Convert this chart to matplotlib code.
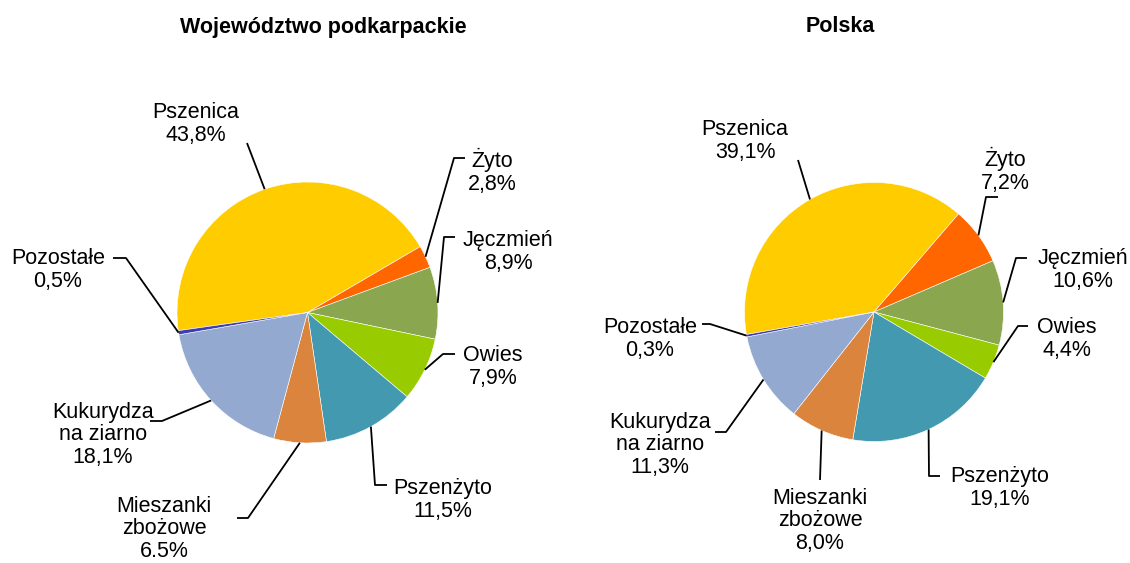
import numpy as np
import matplotlib
matplotlib.use("Agg")
import matplotlib.pyplot as plt

plt.rcParams['font.family'] = ['Liberation Sans', 'DejaVu Sans']

# ---- data ----
categories = ["Pszenica", "Żyto", "Jęczmień", "Owies", "Pszenżyto",
              "Mieszanki\nzbożowe", "Kukurydza\nna ziarno", "Pozostałe"]
podkarpackie = [43.8, 2.8, 8.9, 7.9, 11.5, 6.5, 18.1, 0.5]
polska = [39.1, 7.2, 10.6, 4.4, 19.1, 8.0, 11.3, 0.3]
labels_podk = ["43,8%", "2,8%", "8,9%", "7,9%", "11,5%", "6.5%", "18,1%", "0,5%"]
labels_pl = ["39,1%", "7,2%", "10,6%", "4,4%", "19,1%", "8,0%", "11,3%", "0,3%"]
titles = ["Województwo podkarpackie", "Polska"]

colors = ["#FFCC00", "#FF6600", "#8AA64E", "#99CC00", "#4299B0",
          "#DB843D", "#93A9CF", "#3C3CB4"]

W, H = 1130, 563
fig = plt.figure(figsize=(W / 100, H / 100), dpi=100)
ax = fig.add_axes([0, 0, 1, 1])


def Y(y):
    return H - y


# layout (image pixel coordinates)
pies = [
    dict(values=podkarpackie, labels=labels_podk, center=(307.5, 312.5), r=130.5,
         start=188, title_xy=(323.5, 27),
         text=[(196, 124), (492, 171), (508, 252), (493, 367), (443, 500),
               (164, 529), (103, 435), (58, 270)],
         path=[[(247, 143)], [(454, 158), (465, 158)], [(444, 237), (455, 237)],
               [(443, 354), (455, 354)], [(375, 485), (387, 485)],
               [(248, 518), (237, 518)], [(162, 421), (150, 421)],
               [(126, 258), (113, 258)]]),
    dict(values=polska, labels=labels_pl, center=(874, 312), r=129.5,
         start=190, title_xy=(840, 27),
         text=[(745, 141), (1005, 170), (1083, 270), (1067, 339), (1000, 488),
               (820, 521), (660, 445), (650, 339)],
         path=[[(798, 160)], [(986, 197), (998, 197)], [(1016, 258), (1027, 258)],
               [(1018, 326), (1028, 326)], [(929, 476), (940, 476)],
               [(820, 480)], [(726, 432), (715, 432)],
               [(710, 324), (702, 324)]]),
]

for p, title in zip(pies, titles):
    cx, cy = p["center"]
    wedges, _ = ax.pie(p["values"], colors=colors, startangle=p["start"],
                       counterclock=False, center=(cx, Y(cy)), radius=p["r"],
                       wedgeprops=dict(edgecolor="white", linewidth=0.4))
    for i, w in enumerate(wedges):
        mid = np.deg2rad((w.theta1 + w.theta2) / 2)
        ax_x = cx + p["r"] * np.cos(mid)
        ax_y = Y(cy) + p["r"] * np.sin(mid)
        xs = [ax_x] + [q[0] for q in p["path"][i]]
        ys = [ax_y] + [Y(q[1]) for q in p["path"][i]]
        ax.plot(xs, ys, color="black", linewidth=1.3, solid_capstyle="butt")
        tx, ty = p["text"][i]
        ax.text(tx, Y(ty), categories[i] + "\n" + p["labels"][i],
                ha="center", va="center", fontsize=15.5, linespacing=1.12,
                multialignment="center")
    ax.text(p["title_xy"][0], Y(p["title_xy"][1]), title, ha="center",
            va="center", fontsize=15.5, fontweight="bold")

ax.set_xlim(0, W)
ax.set_ylim(0, H)
ax.set_aspect("auto")
ax.axis("off")

fig.savefig("out.png", dpi=100)
